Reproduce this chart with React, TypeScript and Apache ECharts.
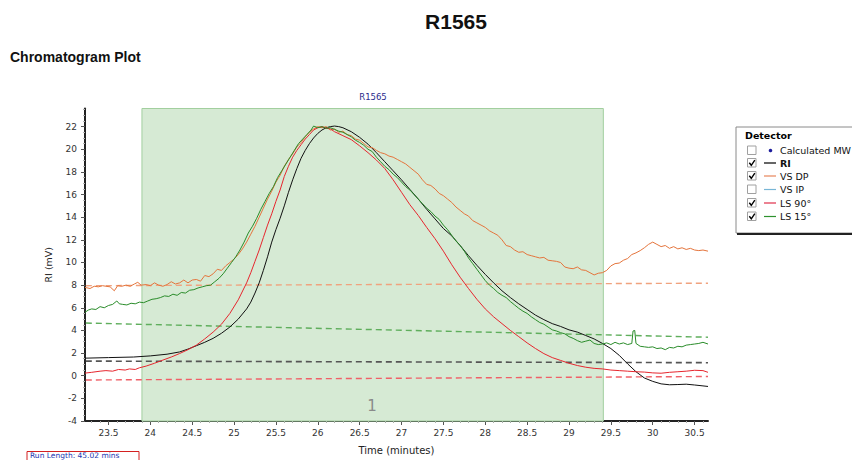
import React, { useEffect, useRef } from "react";
import * as echarts from "echarts";

// ---- data ----
const xRange = [23.22, 30.66];
const yRange = [-4, 23.6];
const xTickLabels = [23.5, 24, 24.5, 25, 25.5, 26, 26.5, 27, 27.5, 28, 28.5, 29, 29.5, 30, 30.5];
const yTickLabels = [-4, -2, 0, 2, 4, 6, 8, 10, 12, 14, 16, 18, 20, 22];
const shadedRange = [23.9, 29.41];
const peakLabel = "1";

const riData = [
  [23.22, 1.55], [23.5, 1.6], [23.8, 1.65], [24.0, 1.75], [24.2, 1.9], [24.35, 2.1], [24.45, 2.35],
  [24.55, 2.65], [24.65, 2.95], [24.75, 3.3], [24.85, 3.75], [24.95, 4.3], [25.05, 5.0], [25.15, 5.9],
  [25.2, 6.5], [25.25, 7.3], [25.3, 8.2], [25.35, 9.3], [25.4, 10.5], [25.45, 11.8], [25.5, 12.9],
  [25.55, 13.9], [25.6, 15.0], [25.65, 16.2], [25.7, 17.3], [25.75, 18.3], [25.8, 19.2], [25.85, 19.9],
  [25.9, 20.5], [25.95, 21.0], [26.0, 21.4], [26.05, 21.7], [26.1, 21.9], [26.15, 22.0], [26.2, 22.05],
  [26.25, 22.0], [26.3, 21.9], [26.4, 21.55], [26.5, 21.05], [26.6, 20.45], [26.7, 19.7], [26.8, 18.9],
  [26.9, 18.1], [27.0, 17.3], [27.1, 16.45], [27.2, 15.6], [27.3, 14.7], [27.4, 13.85], [27.5, 13.0],
  [27.6, 12.35], [27.7, 11.5], [27.8, 10.6], [27.9, 9.75], [28.0, 8.95], [28.1, 8.2], [28.2, 7.5],
  [28.3, 6.9], [28.4, 6.35], [28.5, 5.85], [28.6, 5.35], [28.7, 4.95], [28.8, 4.6], [28.9, 4.35],
  [29.0, 4.05], [29.1, 3.85], [29.2, 3.55], [29.3, 3.25], [29.4, 2.85], [29.5, 2.4], [29.6, 1.8],
  [29.7, 1.05], [29.8, 0.35], [29.9, -0.2], [30.0, -0.5], [30.1, -0.72], [30.2, -0.8], [30.3, -0.78],
  [30.4, -0.75], [30.5, -0.82], [30.6, -0.9], [30.66, -0.95],
];

const vsDpData = [
  [23.22, 7.8], [23.28, 7.7], [23.33, 7.9], [23.38, 7.85], [23.43, 7.95], [23.47, 7.9], [23.52, 7.85],
  [23.57, 7.5], [23.61, 7.95], [23.66, 7.9], [23.71, 8.0], [23.76, 7.9], [23.81, 8.1], [23.85, 8.25],
  [23.89, 8.0], [23.95, 8.05], [24.0, 7.95], [24.05, 8.2], [24.1, 8.0], [24.15, 7.9], [24.2, 8.05],
  [24.25, 8.3], [24.3, 8.1], [24.35, 8.2], [24.4, 8.45], [24.45, 8.2], [24.5, 8.45], [24.55, 8.5],
  [24.6, 8.35], [24.65, 8.85], [24.7, 8.75], [24.75, 9.0], [24.8, 9.4], [24.85, 9.3], [24.9, 9.7],
  [24.95, 10.0], [25.0, 10.3], [25.05, 10.7], [25.1, 11.2], [25.15, 11.8], [25.2, 12.5], [25.25, 13.2],
  [25.3, 14.0], [25.35, 14.8], [25.4, 15.6], [25.45, 16.3], [25.5, 17.1], [25.55, 17.7], [25.6, 18.5],
  [25.65, 19.1], [25.7, 19.6], [25.75, 20.2], [25.8, 20.6], [25.85, 21.1], [25.9, 21.5], [25.95, 21.8],
  [26.0, 22.0], [26.05, 21.9], [26.1, 22.0], [26.15, 21.7], [26.2, 21.8], [26.25, 21.5], [26.3, 21.6],
  [26.35, 21.3], [26.4, 21.2], [26.45, 20.9], [26.5, 20.8], [26.55, 20.5], [26.6, 20.2], [26.65, 20.15],
  [26.7, 19.9], [26.75, 19.7], [26.8, 19.6], [26.85, 19.4], [26.9, 19.3], [26.95, 19.1], [27.0, 18.9],
  [27.05, 18.7], [27.1, 18.4], [27.15, 18.1], [27.2, 17.8], [27.25, 17.3], [27.3, 16.9], [27.35, 16.8],
  [27.4, 16.5], [27.45, 16.1], [27.5, 15.9], [27.55, 15.6], [27.6, 15.3], [27.65, 14.9], [27.7, 14.6],
  [27.75, 14.3], [27.8, 14.1], [27.85, 13.7], [27.9, 13.5], [27.95, 13.3], [28.0, 13.1], [28.05, 12.8],
  [28.1, 12.6], [28.15, 12.4], [28.2, 12.0], [28.25, 11.5], [28.3, 11.4], [28.35, 11.1], [28.4, 10.9],
  [28.45, 10.95], [28.5, 10.7], [28.55, 10.6], [28.6, 10.5], [28.65, 10.4], [28.7, 10.45], [28.75, 10.2],
  [28.8, 10.15], [28.85, 10.1], [28.9, 10.0], [28.95, 9.6], [29.0, 9.5], [29.05, 9.45], [29.1, 9.6],
  [29.15, 9.35], [29.2, 9.3], [29.25, 9.1], [29.3, 8.9], [29.35, 9.05], [29.4, 9.1], [29.45, 9.3],
  [29.5, 9.7], [29.55, 9.9], [29.6, 9.95], [29.65, 10.2], [29.7, 10.35], [29.75, 10.7], [29.8, 10.85],
  [29.85, 11.05], [29.9, 11.3], [29.95, 11.6], [30.0, 11.8], [30.05, 11.6], [30.1, 11.4], [30.15, 11.5],
  [30.2, 11.25], [30.25, 11.4], [30.3, 11.2], [30.35, 11.3], [30.4, 11.15], [30.45, 11.25], [30.5, 11.1],
  [30.55, 11.05], [30.6, 11.1], [30.66, 11.0],
];

const ls90Data = [
  [23.22, 0.23], [23.3, 0.3], [23.4, 0.4], [23.47, 0.45], [23.55, 0.4], [23.62, 0.55], [23.7, 0.5],
  [23.75, 0.6], [23.82, 0.55], [23.87, 0.7], [23.95, 0.85], [24.05, 1.1], [24.15, 1.38], [24.25, 1.65],
  [24.35, 1.96], [24.45, 2.3], [24.55, 2.7], [24.65, 3.25], [24.75, 3.85], [24.85, 4.55], [24.95, 5.5],
  [25.05, 6.7], [25.15, 8.2], [25.2, 9.1], [25.25, 10.1], [25.3, 11.1], [25.35, 12.2], [25.4, 13.3],
  [25.45, 14.3], [25.5, 15.4], [25.55, 16.4], [25.6, 17.6], [25.65, 18.5], [25.7, 19.3], [25.75, 19.9],
  [25.8, 20.4], [25.85, 20.9], [25.9, 21.3], [25.95, 21.7], [26.0, 21.9], [26.05, 22.0], [26.1, 21.85],
  [26.15, 21.8], [26.2, 21.55], [26.3, 21.2], [26.4, 20.85], [26.5, 20.3], [26.6, 19.7], [26.7, 19.05],
  [26.8, 18.3], [26.9, 17.3], [27.0, 16.2], [27.1, 15.1], [27.2, 14.15], [27.3, 13.1], [27.4, 12.1],
  [27.5, 11.0], [27.6, 9.8], [27.7, 8.7], [27.8, 7.7], [27.9, 6.75], [28.0, 5.9], [28.1, 5.2],
  [28.2, 4.6], [28.3, 4.0], [28.4, 3.45], [28.5, 2.9], [28.6, 2.4], [28.7, 1.95], [28.8, 1.6],
  [28.9, 1.35], [29.0, 1.1], [29.1, 0.9], [29.2, 0.75], [29.3, 0.65], [29.4, 0.6], [29.5, 0.5],
  [29.6, 0.45], [29.7, 0.4], [29.8, 0.35], [29.9, 0.32], [30.0, 0.25], [30.1, 0.22], [30.2, 0.3],
  [30.3, 0.35], [30.4, 0.4], [30.5, 0.48], [30.6, 0.45], [30.66, 0.3],
];

const ls15Data = [
  [23.22, 5.6], [23.26, 5.8], [23.3, 5.9], [23.35, 5.85], [23.4, 6.1], [23.45, 6.0], [23.5, 6.2],
  [23.55, 6.3], [23.6, 6.6], [23.63, 6.35], [23.67, 6.3], [23.72, 6.25], [23.77, 6.4], [23.82, 6.35],
  [23.87, 6.5], [23.92, 6.45], [23.97, 6.6], [24.02, 6.75], [24.07, 6.8], [24.12, 6.9], [24.17, 7.05],
  [24.22, 7.0], [24.27, 7.2], [24.32, 7.1], [24.37, 7.35], [24.42, 7.3], [24.47, 7.55], [24.52, 7.6],
  [24.57, 7.75], [24.62, 7.85], [24.67, 7.95], [24.72, 8.0], [24.77, 8.3], [24.82, 8.6], [24.87, 9.0],
  [24.92, 9.5], [24.97, 10.0], [25.02, 10.5], [25.07, 11.1], [25.12, 11.8], [25.17, 12.6], [25.22, 13.2],
  [25.27, 13.9], [25.32, 14.7], [25.37, 15.4], [25.42, 16.1], [25.47, 16.7], [25.52, 17.5], [25.57, 18.1],
  [25.62, 18.7], [25.67, 19.3], [25.72, 19.9], [25.77, 20.5], [25.82, 20.9], [25.87, 21.3], [25.92, 21.7],
  [25.95, 22.05], [26.0, 21.9], [26.05, 22.0], [26.1, 21.85], [26.15, 21.9], [26.2, 21.75], [26.25, 21.6],
  [26.3, 21.5], [26.35, 21.3], [26.4, 21.1], [26.45, 20.8], [26.5, 20.6], [26.55, 20.35], [26.6, 20.0],
  [26.65, 19.8], [26.7, 19.3], [26.75, 18.9], [26.8, 18.5], [26.85, 18.2], [26.9, 17.8], [26.95, 17.5],
  [27.0, 17.1], [27.05, 16.7], [27.1, 16.4], [27.15, 16.0], [27.2, 15.6], [27.25, 15.2], [27.3, 14.8],
  [27.35, 14.5], [27.4, 14.1], [27.45, 13.8], [27.5, 13.3], [27.55, 12.9], [27.6, 12.4], [27.65, 11.9],
  [27.7, 11.5], [27.75, 11.0], [27.8, 10.4], [27.85, 9.9], [27.9, 9.4], [27.95, 8.9], [28.0, 8.4],
  [28.05, 8.0], [28.1, 7.7], [28.15, 7.35], [28.2, 7.1], [28.25, 6.9], [28.3, 6.55], [28.35, 6.25],
  [28.4, 5.95], [28.45, 5.7], [28.5, 5.5], [28.55, 5.2], [28.6, 4.95], [28.65, 4.7], [28.7, 4.55],
  [28.75, 4.3], [28.8, 4.05], [28.85, 3.95], [28.9, 3.8], [28.95, 3.7], [29.0, 3.45], [29.05, 3.3],
  [29.1, 3.1], [29.15, 2.95], [29.2, 3.05], [29.25, 3.15], [29.3, 2.85], [29.35, 2.75], [29.4, 2.8],
  [29.45, 2.9], [29.5, 2.75], [29.55, 2.95], [29.6, 2.8], [29.65, 2.9], [29.7, 2.75], [29.75, 2.85],
  [29.765, 3.95], [29.785, 4.0], [29.8, 2.85], [29.85, 2.6], [29.9, 2.55], [29.95, 2.5], [30.0, 2.55],
  [30.05, 2.4], [30.1, 2.45], [30.15, 2.3], [30.2, 2.5], [30.25, 2.45], [30.3, 2.6], [30.35, 2.55],
  [30.4, 2.7], [30.45, 2.75], [30.5, 2.8], [30.55, 2.85], [30.6, 2.95], [30.66, 2.8],
];

const vsDpBaseline = [[23.23, 7.95], [30.66, 8.17]];
const ls15Baseline = [[23.23, 4.65], [30.66, 3.4]];
const riBaseline = [[23.23, 1.29], [30.66, 1.15]];
const ls90Baseline = [[23.23, -0.38], [30.66, -0.07]];

const legendItems = [
  { name: "Calculated MW", checked: false, kind: "dot", color: "#1c1c9c", bold: false },
  { name: "RI", checked: true, kind: "line", color: "#000000", bold: true },
  { name: "VS DP", checked: true, kind: "line", color: "#e8855a", bold: false },
  { name: "VS IP", checked: false, kind: "line", color: "#78b6d6", bold: false },
  { name: "LS 90°", checked: true, kind: "line", color: "#e0304a", bold: false },
  { name: "LS 15°", checked: true, kind: "line", color: "#2e922e", bold: false },
];

const FONT = "DejaVu Sans";

function buildMinor(start: number, end: number, step: number, majors: number[]) {
  const out: number[] = [];
  for (let v = start; v <= end + 1e-9; v += step) {
    const r = Math.round(v * 100) / 100;
    if (!majors.some((m) => Math.abs(m - r) < 1e-6)) out.push(r);
  }
  return out;
}

export default function App() {
  const ref = useRef<HTMLDivElement>(null);
  useEffect(() => {
    if (!ref.current) return;
    const chart = echarts.init(ref.current, undefined, { renderer: "svg" });

    const minorX = buildMinor(23.3, 30.6, 0.1, xTickLabels);
    const minorY = buildMinor(-3.5, 23.5, 0.5, yTickLabels);

    const legendGraphics: any[] = [];
    const lgLeft = 736;
    const lgTop = 127;
    legendGraphics.push({
      type: "rect",
      shape: { x: lgLeft, y: lgTop, width: 130, height: 106 },
      style: { fill: "#ffffff", stroke: "#8a8a8a", lineWidth: 1 },
    });
    legendGraphics.push({
      type: "line",
      shape: { x1: lgLeft + 1, y1: lgTop + 107, x2: 852, y2: lgTop + 107 },
      style: { stroke: "#222", lineWidth: 2 },
    });
    legendGraphics.push({
      type: "text",
      x: 745,
      y: 135,
      style: { text: "Detector", font: `bold 9.5px '${FONT}'`, fill: "#000", textVerticalAlign: "middle" },
    });
    const rowY = [150.5, 163, 176, 189.5, 203, 216.5];
    legendItems.forEach((it, i) => {
      const y = rowY[i];
      legendGraphics.push({
        type: "rect",
        shape: { x: 747.5, y: y - 4.5, width: 8.5, height: 8.5 },
        style: { fill: "#fff", stroke: "#a0a0a0", lineWidth: 1 },
      });
      if (it.checked) {
        legendGraphics.push({
          type: "polyline",
          shape: { points: [[749.3, y - 0.3], [751.3, y + 2.3], [754.8, y - 2.8]] },
          style: { stroke: "#000", lineWidth: 1.4, fill: null },
        });
      }
      if (it.kind === "dot") {
        legendGraphics.push({
          type: "circle",
          shape: { cx: 770.5, cy: y, r: 1.8 },
          style: { fill: it.color },
        });
      } else {
        legendGraphics.push({
          type: "line",
          shape: { x1: 764, y1: y, x2: 776, y2: y },
          style: { stroke: it.color, lineWidth: 1.2 },
        });
      }
      legendGraphics.push({
        type: "text",
        x: 780,
        y: y,
        style: {
          text: it.name,
          font: `${it.bold ? "bold " : ""}9.5px '${FONT}'`,
          fill: "#111",
          textVerticalAlign: "middle",
        },
      });
    });

    const dashed = (data: number[][], color: string, width = 1.4) => ({
      type: "line",
      data,
      showSymbol: false,
      silent: true,
      lineStyle: { color, width, type: [6, 4] },
      z: 3,
    });
    const solid = (data: number[][], color: string) => ({
      type: "line",
      data,
      showSymbol: false,
      silent: true,
      lineStyle: { color, width: 1 },
      z: 4,
    });

    chart.setOption({
      animation: false,
      backgroundColor: "#ffffff",
      grid: { left: 85, right: 144, top: 108.5, bottom: 33 },
      xAxis: [
        {
          type: "value",
          min: xRange[0],
          max: xRange[1],
          name: "Time (minutes)",
          nameLocation: "middle",
          nameGap: 24,
          nameTextStyle: { fontFamily: FONT, fontSize: 10, color: "#222" },
          axisLine: { show: true, onZero: false, lineStyle: { color: "#222", width: 2 } },
          axisTick: { show: true, customValues: xTickLabels, length: 4, lineStyle: { color: "#555" } },
          axisLabel: {
            customValues: xTickLabels,
            fontFamily: FONT,
            fontSize: 9,
            color: "#333",
            margin: 7,
          },
          splitLine: { show: false },
        },
        {
          type: "value",
          min: xRange[0],
          max: xRange[1],
          position: "bottom",
          axisLine: { show: false, onZero: false },
          axisTick: { show: true, customValues: minorX, length: 2, lineStyle: { color: "#aaa" } },
          axisLabel: { show: false },
          splitLine: { show: false },
        },
      ],
      yAxis: [
        {
          type: "value",
          min: yRange[0],
          max: yRange[1],
          interval: 2,
          name: "RI (mV)",
          nameLocation: "middle",
          nameGap: 32,
          nameRotate: 90,
          nameTextStyle: { fontFamily: FONT, fontSize: 9.5, color: "#222" },
          axisLine: { show: true, onZero: false, lineStyle: { color: "#222", width: 2 } },
          axisTick: { show: true, customValues: yTickLabels, length: 4, lineStyle: { color: "#555" } },
          axisLabel: {
            customValues: yTickLabels,
            fontFamily: FONT,
            fontSize: 9,
            color: "#333",
            margin: 8,
          },
          splitLine: { show: false },
        },
        {
          type: "value",
          min: yRange[0],
          max: yRange[1],
          position: "left",
          offset: 0,
          axisLine: { show: false, onZero: false },
          axisTick: { show: true, customValues: minorY, length: 2, lineStyle: { color: "#b0b0b0" } },
          axisLabel: { show: false },
          splitLine: { show: false },
        },
      ],
      series: [
        {
          type: "line",
          data: [],
          silent: true,
          z: 1,
          markArea: {
            silent: true,
            itemStyle: { color: "#d6ead4", borderColor: "#a2cf9f", borderWidth: 1 },
            label: { show: false },
            data: [[{ xAxis: shadedRange[0] }, { xAxis: shadedRange[1] }]],
          },
        },
        dashed(vsDpBaseline, "#f0a27e"),
        dashed(ls15Baseline, "#5fae5c"),
        dashed(riBaseline, "#555555", 1.6),
        dashed(ls90Baseline, "#f06068"),
        solid(riData, "#111111"),
        solid(vsDpData, "#e4743c"),
        solid(ls90Data, "#e6262e"),
        solid(ls15Data, "#2a8c2a"),
      ],
      graphic: [
        {
          type: "text",
          x: 456,
          y: 21,
          style: {
            text: "R1565",
            font: "bold 21px 'Liberation Sans'",
            fill: "#111",
            textAlign: "center",
            textVerticalAlign: "middle",
          },
        },
        {
          type: "text",
          x: 10,
          y: 57,
          style: {
            text: "Chromatogram Plot",
            font: "bold 14px 'Liberation Sans'",
            fill: "#111",
            textVerticalAlign: "middle",
          },
        },
        {
          type: "text",
          x: 373,
          y: 97,
          style: {
            text: "R1565",
            font: `8.5px '${FONT}'`,
            fill: "#2b2b8c",
            textAlign: "center",
            textVerticalAlign: "middle",
          },
        },
        {
          type: "text",
          x: 372,
          y: 406,
          z: 10,
          style: {
            text: peakLabel,
            font: `15px '${FONT}'`,
            fill: "#8a8a8a",
            textAlign: "center",
            textVerticalAlign: "middle",
          },
        },
        {
          type: "rect",
          shape: { x: 27, y: 451.5, width: 112, height: 14 },
          style: { fill: "#fff", stroke: "#d42020", lineWidth: 1 },
        },
        {
          type: "text",
          x: 30,
          y: 455.5,
          style: {
            text: "Run Length: 45.02 mins",
            font: `7.5px '${FONT}'`,
            fill: "#2236b0",
            textVerticalAlign: "middle",
          },
        },
        ...legendGraphics,
      ],
    });
    return () => chart.dispose();
  }, []);
  return (
    <div
      ref={ref}
      style={{ position: "fixed", left: 0, top: 0, width: 852, height: 460, background: "#fff" }}
    />
  );
}
